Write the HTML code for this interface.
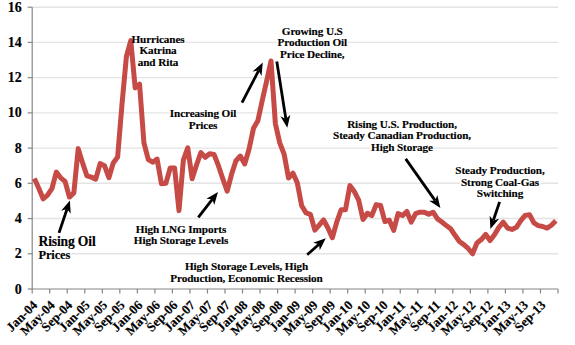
<!DOCTYPE html>
<html><head><meta charset="utf-8"><style>
html,body{margin:0;padding:0;background:#fff;}
body{width:575px;height:345px;overflow:hidden;}
svg{display:block;}
text{font-family:"Liberation Serif",serif;font-weight:bold;fill:#000;stroke:#000;stroke-width:0.15px;}
.yl{font-size:14px;text-anchor:end;}
.xl{font-size:13px;text-anchor:end;}
.an{font-size:11.2px;text-anchor:middle;letter-spacing:-0.1px;}
.ro{font-size:13.6px;letter-spacing:-0.15px;}
.rp{font-size:12.4px;letter-spacing:-0.1px;}
</style></head><body>
<svg width="575" height="345" viewBox="0 0 575 345">
<line x1="32.2" y1="253.78" x2="558.0" y2="253.78" stroke="#E4E4E4" stroke-width="1.4"/>
<line x1="32.2" y1="218.55" x2="558.0" y2="218.55" stroke="#E4E4E4" stroke-width="1.4"/>
<line x1="32.2" y1="183.32" x2="558.0" y2="183.32" stroke="#E4E4E4" stroke-width="1.4"/>
<line x1="32.2" y1="148.10" x2="558.0" y2="148.10" stroke="#E4E4E4" stroke-width="1.4"/>
<line x1="32.2" y1="112.88" x2="558.0" y2="112.88" stroke="#E4E4E4" stroke-width="1.4"/>
<line x1="32.2" y1="77.65" x2="558.0" y2="77.65" stroke="#E4E4E4" stroke-width="1.4"/>
<line x1="32.2" y1="42.42" x2="558.0" y2="42.42" stroke="#E4E4E4" stroke-width="1.4"/>
<line x1="32.2" y1="7.20" x2="558.0" y2="7.20" stroke="#E4E4E4" stroke-width="1.4"/>
<line x1="32.2" y1="7.2" x2="32.2" y2="289.0" stroke="#868686" stroke-width="1.2"/>
<line x1="27.700000000000003" y1="289.00" x2="32.2" y2="289.00" stroke="#868686" stroke-width="1.2"/>
<text x="21.7" y="293.60" class="yl">0</text>
<line x1="27.700000000000003" y1="253.78" x2="32.2" y2="253.78" stroke="#868686" stroke-width="1.2"/>
<text x="21.7" y="258.38" class="yl">2</text>
<line x1="27.700000000000003" y1="218.55" x2="32.2" y2="218.55" stroke="#868686" stroke-width="1.2"/>
<text x="21.7" y="223.15" class="yl">4</text>
<line x1="27.700000000000003" y1="183.32" x2="32.2" y2="183.32" stroke="#868686" stroke-width="1.2"/>
<text x="21.7" y="187.92" class="yl">6</text>
<line x1="27.700000000000003" y1="148.10" x2="32.2" y2="148.10" stroke="#868686" stroke-width="1.2"/>
<text x="21.7" y="152.70" class="yl">8</text>
<line x1="27.700000000000003" y1="112.88" x2="32.2" y2="112.88" stroke="#868686" stroke-width="1.2"/>
<text x="21.7" y="117.47" class="yl">10</text>
<line x1="27.700000000000003" y1="77.65" x2="32.2" y2="77.65" stroke="#868686" stroke-width="1.2"/>
<text x="21.7" y="82.25" class="yl">12</text>
<line x1="27.700000000000003" y1="42.42" x2="32.2" y2="42.42" stroke="#868686" stroke-width="1.2"/>
<text x="21.7" y="47.02" class="yl">14</text>
<line x1="27.700000000000003" y1="7.20" x2="32.2" y2="7.20" stroke="#868686" stroke-width="1.2"/>
<text x="21.7" y="11.80" class="yl">16</text>
<line x1="32.2" y1="289.0" x2="558.0" y2="289.0" stroke="#868686" stroke-width="1.2"/>
<line x1="32.20" y1="289.0" x2="32.20" y2="293.5" stroke="#868686" stroke-width="1.2"/>
<line x1="49.73" y1="289.0" x2="49.73" y2="293.5" stroke="#868686" stroke-width="1.2"/>
<line x1="67.25" y1="289.0" x2="67.25" y2="293.5" stroke="#868686" stroke-width="1.2"/>
<line x1="84.78" y1="289.0" x2="84.78" y2="293.5" stroke="#868686" stroke-width="1.2"/>
<line x1="102.31" y1="289.0" x2="102.31" y2="293.5" stroke="#868686" stroke-width="1.2"/>
<line x1="119.83" y1="289.0" x2="119.83" y2="293.5" stroke="#868686" stroke-width="1.2"/>
<line x1="137.36" y1="289.0" x2="137.36" y2="293.5" stroke="#868686" stroke-width="1.2"/>
<line x1="154.89" y1="289.0" x2="154.89" y2="293.5" stroke="#868686" stroke-width="1.2"/>
<line x1="172.41" y1="289.0" x2="172.41" y2="293.5" stroke="#868686" stroke-width="1.2"/>
<line x1="189.94" y1="289.0" x2="189.94" y2="293.5" stroke="#868686" stroke-width="1.2"/>
<line x1="207.47" y1="289.0" x2="207.47" y2="293.5" stroke="#868686" stroke-width="1.2"/>
<line x1="224.99" y1="289.0" x2="224.99" y2="293.5" stroke="#868686" stroke-width="1.2"/>
<line x1="242.52" y1="289.0" x2="242.52" y2="293.5" stroke="#868686" stroke-width="1.2"/>
<line x1="260.05" y1="289.0" x2="260.05" y2="293.5" stroke="#868686" stroke-width="1.2"/>
<line x1="277.57" y1="289.0" x2="277.57" y2="293.5" stroke="#868686" stroke-width="1.2"/>
<line x1="295.10" y1="289.0" x2="295.10" y2="293.5" stroke="#868686" stroke-width="1.2"/>
<line x1="312.63" y1="289.0" x2="312.63" y2="293.5" stroke="#868686" stroke-width="1.2"/>
<line x1="330.15" y1="289.0" x2="330.15" y2="293.5" stroke="#868686" stroke-width="1.2"/>
<line x1="347.68" y1="289.0" x2="347.68" y2="293.5" stroke="#868686" stroke-width="1.2"/>
<line x1="365.21" y1="289.0" x2="365.21" y2="293.5" stroke="#868686" stroke-width="1.2"/>
<line x1="382.73" y1="289.0" x2="382.73" y2="293.5" stroke="#868686" stroke-width="1.2"/>
<line x1="400.26" y1="289.0" x2="400.26" y2="293.5" stroke="#868686" stroke-width="1.2"/>
<line x1="417.79" y1="289.0" x2="417.79" y2="293.5" stroke="#868686" stroke-width="1.2"/>
<line x1="435.31" y1="289.0" x2="435.31" y2="293.5" stroke="#868686" stroke-width="1.2"/>
<line x1="452.84" y1="289.0" x2="452.84" y2="293.5" stroke="#868686" stroke-width="1.2"/>
<line x1="470.37" y1="289.0" x2="470.37" y2="293.5" stroke="#868686" stroke-width="1.2"/>
<line x1="487.89" y1="289.0" x2="487.89" y2="293.5" stroke="#868686" stroke-width="1.2"/>
<line x1="505.42" y1="289.0" x2="505.42" y2="293.5" stroke="#868686" stroke-width="1.2"/>
<line x1="522.95" y1="289.0" x2="522.95" y2="293.5" stroke="#868686" stroke-width="1.2"/>
<line x1="540.47" y1="289.0" x2="540.47" y2="293.5" stroke="#868686" stroke-width="1.2"/>
<line x1="558.00" y1="289.0" x2="558.00" y2="293.5" stroke="#868686" stroke-width="1.2"/>
<text x="38.09" y="305.9" class="xl" transform="rotate(-45 38.09 305.9)">Jan-04</text>
<text x="55.62" y="305.9" class="xl" transform="rotate(-45 55.62 305.9)">May-04</text>
<text x="73.14" y="305.9" class="xl" transform="rotate(-45 73.14 305.9)">Sep-04</text>
<text x="90.67" y="305.9" class="xl" transform="rotate(-45 90.67 305.9)">Jan-05</text>
<text x="108.20" y="305.9" class="xl" transform="rotate(-45 108.20 305.9)">May-05</text>
<text x="125.72" y="305.9" class="xl" transform="rotate(-45 125.72 305.9)">Sep-05</text>
<text x="143.25" y="305.9" class="xl" transform="rotate(-45 143.25 305.9)">Jan-06</text>
<text x="160.78" y="305.9" class="xl" transform="rotate(-45 160.78 305.9)">May-06</text>
<text x="178.30" y="305.9" class="xl" transform="rotate(-45 178.30 305.9)">Sep-06</text>
<text x="195.83" y="305.9" class="xl" transform="rotate(-45 195.83 305.9)">Jan-07</text>
<text x="213.36" y="305.9" class="xl" transform="rotate(-45 213.36 305.9)">May-07</text>
<text x="230.88" y="305.9" class="xl" transform="rotate(-45 230.88 305.9)">Sep-07</text>
<text x="248.41" y="305.9" class="xl" transform="rotate(-45 248.41 305.9)">Jan-08</text>
<text x="265.94" y="305.9" class="xl" transform="rotate(-45 265.94 305.9)">May-08</text>
<text x="283.46" y="305.9" class="xl" transform="rotate(-45 283.46 305.9)">Sep-08</text>
<text x="300.99" y="305.9" class="xl" transform="rotate(-45 300.99 305.9)">Jan-09</text>
<text x="318.52" y="305.9" class="xl" transform="rotate(-45 318.52 305.9)">May-09</text>
<text x="336.04" y="305.9" class="xl" transform="rotate(-45 336.04 305.9)">Sep-09</text>
<text x="353.57" y="305.9" class="xl" transform="rotate(-45 353.57 305.9)">Jan-10</text>
<text x="371.10" y="305.9" class="xl" transform="rotate(-45 371.10 305.9)">May-10</text>
<text x="388.62" y="305.9" class="xl" transform="rotate(-45 388.62 305.9)">Sep-10</text>
<text x="406.15" y="305.9" class="xl" transform="rotate(-45 406.15 305.9)">Jan-11</text>
<text x="423.68" y="305.9" class="xl" transform="rotate(-45 423.68 305.9)">May-11</text>
<text x="441.20" y="305.9" class="xl" transform="rotate(-45 441.20 305.9)">Sep-11</text>
<text x="458.73" y="305.9" class="xl" transform="rotate(-45 458.73 305.9)">Jan-12</text>
<text x="476.26" y="305.9" class="xl" transform="rotate(-45 476.26 305.9)">May-12</text>
<text x="493.78" y="305.9" class="xl" transform="rotate(-45 493.78 305.9)">Sep-12</text>
<text x="511.31" y="305.9" class="xl" transform="rotate(-45 511.31 305.9)">Jan-13</text>
<text x="528.84" y="305.9" class="xl" transform="rotate(-45 528.84 305.9)">May-13</text>
<text x="546.36" y="305.9" class="xl" transform="rotate(-45 546.36 305.9)">Sep-13</text>
<rect x="130.66" y="33.30" width="55.41" height="12" fill="#fff"/>
<rect x="138.59" y="44.80" width="39.32" height="12" fill="#fff"/>
<rect x="136.93" y="56.30" width="42.65" height="12" fill="#fff"/>
<rect x="281.07" y="25.00" width="62.46" height="12" fill="#fff"/>
<rect x="276.71" y="36.60" width="71.18" height="12" fill="#fff"/>
<rect x="279.27" y="48.10" width="66.35" height="12" fill="#fff"/>
<rect x="168.97" y="107.10" width="68.07" height="12" fill="#fff"/>
<rect x="187.90" y="119.70" width="30.94" height="12" fill="#fff"/>
<rect x="346.35" y="118.50" width="111.60" height="12" fill="#fff"/>
<rect x="332.25" y="129.80" width="139.80" height="12" fill="#fff"/>
<rect x="370.25" y="141.00" width="63.62" height="12" fill="#fff"/>
<rect x="454.51" y="164.00" width="91.27" height="12" fill="#fff"/>
<rect x="460.11" y="176.30" width="80.51" height="12" fill="#fff"/>
<rect x="476.02" y="187.50" width="48.45" height="12" fill="#fff"/>
<rect x="135.00" y="223.00" width="92.74" height="12" fill="#fff"/>
<rect x="132.98" y="234.30" width="96.77" height="12" fill="#fff"/>
<rect x="184.17" y="260.10" width="125.53" height="12" fill="#fff"/>
<rect x="169.46" y="272.00" width="154.96" height="12" fill="#fff"/>
<rect x="37.70" y="236.80" width="59.02" height="12" fill="#fff"/>
<rect x="33" y="248.90" width="38.31" height="12.5" fill="#fff"/>
<polyline points="34.39,178.57 38.77,188.26 43.15,198.82 47.54,195.13 51.92,188.61 56.30,172.05 60.68,177.87 65.06,181.39 69.44,197.06 73.83,193.01 78.21,148.63 82.59,162.89 86.97,175.93 91.35,177.16 95.73,179.10 100.12,163.60 104.50,165.71 108.88,177.69 113.26,162.89 117.64,157.08 122.02,104.07 126.41,56.52 130.79,40.66 135.17,87.87 139.55,84.17 143.93,142.82 148.31,159.55 152.70,162.19 157.08,159.02 161.46,183.85 165.84,183.32 170.22,168.00 174.60,168.00 178.99,210.62 183.37,160.08 187.75,147.75 192.13,178.75 196.51,165.01 200.89,152.68 205.28,157.26 209.66,153.74 214.04,154.44 218.42,165.71 222.80,178.75 227.18,191.07 231.57,174.34 235.95,160.78 240.33,156.03 244.71,163.95 249.09,148.98 253.47,128.37 257.86,120.80 262.24,100.55 266.62,81.17 271.00,60.92 275.38,123.79 279.76,142.82 284.15,154.26 288.53,178.04 292.91,173.11 297.29,182.80 301.67,205.69 306.05,212.91 310.44,214.32 314.82,230.17 319.20,225.07 323.58,219.96 327.96,228.06 332.34,237.75 336.73,222.07 341.11,209.74 345.49,209.74 349.87,185.61 354.25,191.43 358.63,200.06 363.02,219.43 367.40,213.27 371.78,215.56 376.16,204.64 380.54,205.52 384.92,221.54 389.31,220.14 393.69,230.35 398.07,213.62 402.45,215.56 406.83,211.50 411.21,222.07 415.60,213.62 419.98,212.21 424.36,212.21 428.74,214.32 433.12,212.21 437.50,218.90 441.89,222.07 446.27,225.59 450.65,228.77 455.03,235.28 459.41,241.45 463.79,244.62 468.18,248.49 472.56,253.78 476.94,243.03 481.32,239.51 485.70,234.40 490.08,240.57 494.47,234.75 498.85,227.36 503.23,222.25 507.61,228.06 511.99,229.47 516.37,227.36 520.76,220.66 525.14,215.38 529.52,214.68 533.90,222.95 538.28,225.59 542.66,226.48 547.05,228.06 551.43,225.24 555.81,220.84" fill="none" stroke="#C64A45" stroke-width="5" stroke-linejoin="round" stroke-linecap="butt"/>
<line x1="59.00" y1="232.90" x2="67.04" y2="208.93" stroke="#000" stroke-width="2.8"/><polygon points="69.90,200.40 70.67,213.84 67.04,208.93 61.18,210.66" fill="#000"/>
<line x1="198.30" y1="217.30" x2="212.46" y2="199.19" stroke="#000" stroke-width="2.8"/><polygon points="218.00,192.10 214.24,205.03 212.46,199.19 206.36,198.87" fill="#000"/>
<line x1="242.00" y1="102.60" x2="258.65" y2="70.58" stroke="#000" stroke-width="2.8"/><polygon points="262.80,62.60 261.47,76.00 258.65,70.58 252.60,71.38" fill="#000"/>
<line x1="276.80" y1="61.50" x2="285.89" y2="118.91" stroke="#000" stroke-width="2.8"/><polygon points="287.30,127.80 280.41,116.24 285.89,118.91 290.28,114.67" fill="#000"/>
<line x1="307.20" y1="254.70" x2="319.05" y2="244.25" stroke="#000" stroke-width="2.8"/><polygon points="325.80,238.30 319.73,250.32 319.05,244.25 313.12,242.82" fill="#000"/>
<line x1="405.70" y1="158.90" x2="435.21" y2="200.65" stroke="#000" stroke-width="2.8"/><polygon points="440.40,208.00 429.10,200.68 435.21,200.65 437.27,194.91" fill="#000"/>
<line x1="499.60" y1="201.90" x2="493.28" y2="220.57" stroke="#000" stroke-width="2.8"/><polygon points="490.40,229.10 489.67,215.66 493.28,220.57 499.14,218.86" fill="#000"/>
<text x="158" y="42.8" class="an">Hurricanes</text>
<text x="158" y="54.3" class="an">Katrina</text>
<text x="158" y="65.8" class="an">and Rita</text>
<text x="312.3" y="34.5" class="an">Growing U.S</text>
<text x="312.3" y="46.1" class="an">Production Oil</text>
<text x="312.3" y="57.6" class="an">Price Decline,</text>
<text x="203" y="116.6" class="an">Increasing Oil</text>
<text x="203" y="129.2" class="an">Prices</text>
<text x="402" y="128" class="an">Rising U.S. Production,</text>
<text x="402" y="139.3" class="an">Steady Canadian Production,</text>
<text x="402" y="150.5" class="an">High Storage</text>
<text x="500" y="173.5" class="an">Steady Production,</text>
<text x="500" y="185.8" class="an">Strong Coal-Gas</text>
<text x="500" y="197" class="an">Switching</text>
<text x="181" y="232.5" class="an">High LNG Imports</text>
<text x="181" y="243.8" class="an">High Storage Levels</text>
<text x="246.5" y="269.6" class="an">High Storage Levels, High</text>
<text x="246.5" y="281.5" class="an">Production, Economic Recession</text>
<text x="38.5" y="246.3" class="ro">Rising Oil</text>
<text x="38.5" y="258.9" class="rp">Prices</text>
</svg>
</body></html>
